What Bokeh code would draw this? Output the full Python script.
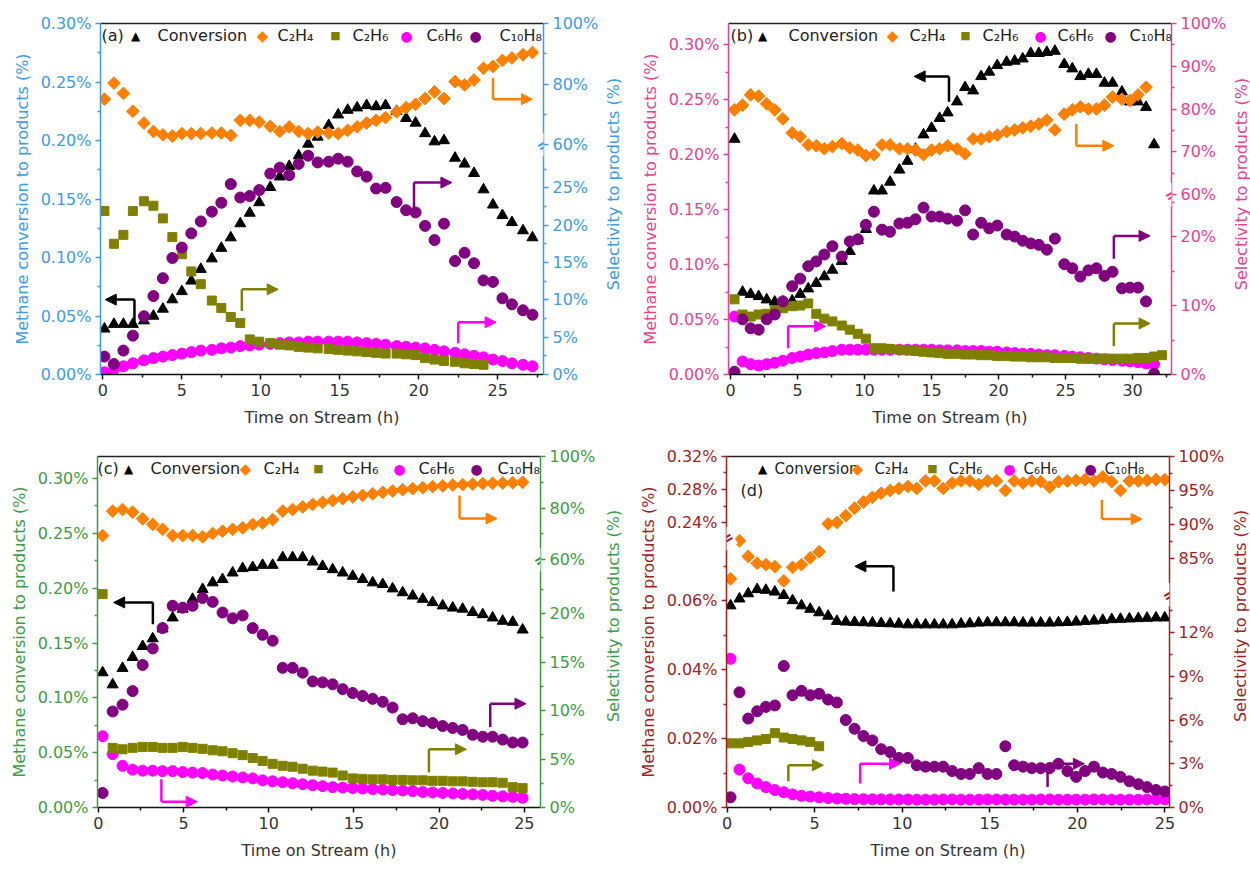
import json
import math
from bokeh.plotting import figure
from bokeh.models import (Range1d, LinearAxis, FixedTicker, CustomJSTickFormatter,
                          Label, Arrow, NormalHead)
from bokeh.layouts import column, row
from bokeh.embed import file_html
from bokeh.resources import INLINE

FONT = "DejaVu Sans"
FW, FH = 443, 351
C_CONV, C_C2H4, C_C2H6, C_C6H6, C_C10H8 = "#000000", "#ff8000", "#808000", "#ff00ff", "#800080"
LEGEND_LABELS = ["Conversion", "C\u2082H\u2084", "C\u2082H\u2086", "C\u2086H\u2086", "C\u2081\u2080H\u2088"]
LEGEND_SYMBOLS = [("\u25B2", C_CONV, "12px"), ("\u25C6", C_C2H4, "15px"), ("\u25A0", C_C2H6, "11px"),
                  ("\u25CF", C_C6H6, "14px"), ("\u25CF", C_C10H8, "14px")]
RIGHT_TITLE = "Selectivity to products (%)"

# ---------------- panel (a) ----------------
TA = [0.1, 0.7, 1.3, 1.9, 2.6, 3.2, 3.8, 4.4, 5.0, 5.6, 6.2, 6.9, 7.5, 8.1, 8.7, 9.3, 9.9, 10.6, 11.2, 11.8,
      12.4, 13.0, 13.6, 14.3, 14.9, 15.5, 16.1, 16.7, 17.3, 17.9, 18.6, 19.2, 19.8, 20.4, 21.0, 21.6, 22.3,
      22.9, 23.5, 24.1, 24.7, 25.3, 25.9, 26.6, 27.2]
CONV_A = [.039, .043, .043, .043, .046, .050, .056, .064, .071, .080, .090, .099, .108, .117, .129, .138, .147,
          .160, .169, .178, .187, .197, .203, .213, .222, .226, .228, .230, .229, .230, .225, .219, .215, .206,
          .199, .200, .185, .180, .172, .158, .145, .136, .130, .123, .117]
C2H4_A = [75.0, 80.3, 76.9, 71.0, 67.1, 64.3, 63.2, 62.8, 63.6, 63.6, 63.6, 63.8, 63.8, 63.0, 68.0, 68.0, 67.4,
          66.0, 64.3, 65.8, 64.3, 63.6, 64.1, 63.8, 63.6, 64.7, 65.8, 67.1, 68.0, 68.9, 70.8, 72.2, 73.3, 75.2,
          77.4, 75.2, 80.8, 79.7, 81.3, 85.2, 85.8, 87.8, 88.6, 89.7, 90.4]
C2H6_A = [21.9, 17.5, 18.7, 21.9, 23.2, 22.6, 20.9, 18.4, 16.1, 13.8, 12.1, 9.9, 8.9, 7.7, 6.9, 4.7, 4.4, 4.2,
          4.0, 3.9, 3.7, 3.6, 3.5, 3.4, 3.3, 3.2, 3.1, 3.0, 2.9, 2.8, 2.8, 2.7, 2.6, 2.2, 2.0, 1.8, 1.7, 1.5,
          1.4, 1.3]
C6H6_A = [0.3, 0.7, 1.1, 1.5, 1.9, 2.2, 2.4, 2.6, 2.8, 3.0, 3.2, 3.3, 3.5, 3.6, 3.8, 3.9, 4.0, 4.1, 4.2, 4.3,
          4.3, 4.4, 4.4, 4.4, 4.4, 4.4, 4.3, 4.2, 4.1, 4.0, 3.8, 3.7, 3.6, 3.5, 3.3, 3.1, 2.9, 2.7, 2.5, 2.3,
          2.0, 1.8, 1.5, 1.3, 1.1]
C10H8_A = [2.4, 1.4, 3.2, 5.2, 7.8, 10.5, 12.9, 15.6, 17.0, 18.9, 20.5, 21.8, 23.0, 25.5, 23.7, 23.9, 24.7,
           26.9, 27.7, 26.7, 28.2, 29.3, 28.4, 28.5, 28.9, 28.5, 27.2, 26.5, 24.9, 25.0, 23.1, 22.0, 21.7, 19.9,
           18.0, 20.2, 15.2, 16.3, 14.9, 12.6, 12.4, 10.2, 9.4, 8.6, 8.0]

# ---------------- panel (b) ----------------
TB = [0.3, 0.9, 1.5, 2.1, 2.7, 3.3, 3.9, 4.6, 5.2, 5.8, 6.4, 7.0, 7.6, 8.3, 8.9, 9.5, 10.1, 10.7, 11.3, 11.9,
      12.6, 13.2, 13.8, 14.4, 15.0, 15.6, 16.2, 16.9, 17.5, 18.1, 18.7, 19.3, 19.9, 20.6, 21.2, 21.8, 22.4,
      23.0, 23.6, 24.2, 24.9, 25.5, 26.1, 26.7, 27.3, 27.9, 28.5, 29.2, 29.8, 30.4, 31.0, 31.6, 32.2]
CONV_B = [.214, .075, .073, .071, .068, .066, .066, .067, .073, .078, .083, .089, .095, .103, .112, .122, .132,
          .167, .167, .175, .186, .194, .205, .218, .224, .233, .238, .248, .261, .258, .271, .275, .281, .284,
          .285, .287, .292, .292, .293, .294, .282, .278, .271, .273, .273, .265, .265, .257, .248, .248, .243,
          .209]
C2H4_B = [79.8, 80.9, 83.3, 83.0, 81.2, 79.8, 77.7, 74.4, 73.5, 71.6, 71.4, 70.7, 71.2, 71.9, 70.9, 70.4, 69.1,
          69.3, 71.6, 71.6, 70.7, 70.7, 70.4, 69.3, 70.4, 70.7, 71.4, 70.7, 69.5, 73.0, 73.0, 73.5, 73.9, 74.7,
          75.1, 75.6, 76.0, 76.5, 77.4, 75.1, 78.8, 79.8, 80.5, 80.0, 80.0, 80.9, 82.8, 82.3, 82.0, 83.3, 85.1]
C2H6_B = [10.9, 8.7, 8.4, 8.7, 8.8, 9.3, 9.6, 9.9, 10.0, 10.3, 8.8, 8.1, 7.7, 7.1, 6.5, 5.9, 5.2, 3.8, 3.8,
          3.7, 3.6, 3.5, 3.4, 3.3, 3.2, 3.1, 3.0, 3.0, 2.9, 2.9, 2.8, 2.8, 2.7, 2.7, 2.6, 2.6, 2.5, 2.5, 2.5,
          2.4, 2.4, 2.4, 2.3, 2.3, 2.3, 2.3, 2.3, 2.3, 2.3, 2.4, 2.4, 2.6, 2.8]
C6H6_B = [8.4, 1.9, 1.5, 1.3, 1.5, 1.7, 2.0, 2.4, 2.6, 2.9, 3.1, 3.2, 3.4, 3.6, 3.6, 3.6, 3.6, 3.6, 3.6, 3.6,
          3.6, 3.6, 3.6, 3.6, 3.6, 3.5, 3.5, 3.5, 3.4, 3.4, 3.4, 3.3, 3.3, 3.2, 3.1, 3.0, 3.0, 2.9, 2.8, 2.8,
          2.7, 2.6, 2.5, 2.4, 2.3, 2.2, 2.1, 2.0, 1.9, 1.8, 1.6, 1.5]
C10H8_B = [0.4, 8.0, 6.7, 6.5, 8.0, 8.7, 10.6, 12.8, 13.9, 15.7, 16.4, 17.4, 18.6, 17.1, 19.3, 19.6, 21.7, 23.6,
           21.0, 20.7, 21.9, 22.0, 22.5, 24.2, 22.9, 22.9, 22.6, 22.3, 23.8, 20.3, 22.0, 21.2, 21.6, 20.3, 20.0,
           19.4, 19.0, 18.8, 18.1, 19.7, 16.0, 15.4, 14.2, 15.1, 15.4, 14.3, 14.9, 12.5, 12.6, 12.6, 10.6, 0.1]

# ---------------- panel (c) ----------------
TC = [0.25, 0.84, 1.42, 2.01, 2.6, 3.19, 3.77, 4.36, 4.95, 5.53, 6.12, 6.71, 7.29, 7.88, 8.47, 9.06, 9.64,
      10.23, 10.82, 11.4, 11.99, 12.58, 13.16, 13.75, 14.34, 14.93, 15.51, 16.1, 16.69, 17.27, 17.86, 18.45,
      19.04, 19.62, 20.21, 20.8, 21.38, 21.97, 22.56, 23.14, 23.73, 24.32, 24.9]
CONV_C = [.123, .112, .127, .137, .147, .154, .163, .173, .181, .190, .199, .205, .208, .214, .218, .219, .221,
          .221, .228, .228, .228, .224, .220, .217, .214, .211, .208, .205, .2035, .1995, .196, .193, .190, .187,
          .184, .182, .181, .178, .176, .173, .170, .169, .162]
C2H4_C = [69.3, 78.8, 79.4, 78.4, 75.8, 73.6, 71.7, 69.3, 69.3, 69.3, 68.8, 70.1, 71.0, 71.7, 72.3, 73.6, 74.2,
          75.5, 78.8, 79.4, 80.4, 81.4, 82.2, 82.9, 83.6, 84.3, 84.9, 85.5, 86.1, 86.6, 87.1, 87.5, 87.9, 88.3,
          88.6, 88.9, 89.1, 89.3, 89.5, 89.6, 89.7, 89.8, 90.0]
C2H6_C = [22.0, 6.15, 6.0, 6.15, 6.25, 6.25, 6.15, 6.15, 6.25, 6.15, 6.05, 5.9, 5.8, 5.6, 5.4, 5.1, 4.8, 4.5,
          4.3, 4.2, 4.0, 3.8, 3.7, 3.6, 3.3, 3.0, 2.95, 2.9, 2.9, 2.85, 2.85, 2.8, 2.8, 2.75, 2.75, 2.7, 2.7,
          2.65, 2.6, 2.6, 2.55, 2.1, 2.0]
C6H6_C = [7.35, 5.5, 4.3, 3.9, 3.8, 3.8, 3.75, 3.75, 3.65, 3.6, 3.55, 3.4, 3.3, 3.2, 3.1, 3.0, 2.8, 2.7, 2.6,
          2.5, 2.4, 2.3, 2.2, 2.1, 2.05, 2.0, 1.95, 1.9, 1.85, 1.8, 1.75, 1.7, 1.6, 1.55, 1.5, 1.45, 1.4, 1.35,
          1.3, 1.2, 1.15, 1.1, 1.0]
C10H8_C = [1.5, 9.9, 10.6, 12.0, 14.7, 16.4, 18.5, 20.8, 20.6, 20.8, 21.6, 21.2, 20.1, 19.5, 19.8, 18.5, 17.8,
           17.2, 14.4, 14.4, 13.9, 13.0, 12.9, 12.7, 12.2, 11.8, 11.5, 11.2, 10.9, 10.3, 9.1, 9.2, 8.9, 8.7,
           8.4, 8.2, 8.0, 7.5, 7.3, 7.3, 7.0, 6.7, 6.7]

# ---------------- panel (d) ----------------
TD = [0.2, 0.71, 1.21, 1.72, 2.22, 2.73, 3.24, 3.74, 4.25, 4.75, 5.26, 5.77, 6.27, 6.78, 7.28, 7.79, 8.3, 8.8,
      9.31, 9.81, 10.32, 10.83, 11.33, 11.84, 12.34, 12.85, 13.36, 13.86, 14.37, 14.87, 15.38, 15.89, 16.39,
      16.9, 17.4, 17.91, 18.42, 18.92, 19.43, 19.93, 20.44, 20.95, 21.45, 21.96, 22.46, 22.97, 23.48, 23.98,
      24.49, 24.99]
CONV_D = [.0585, .0605, .062, .0632, .063, .0625, .0615, .060, .0585, .0575, .0565, .0555, .054, .0538, .0537,
          .0536, .0535, .0534, .0533, .0532, .053, .053, .053, .053, .053, .053, .0532, .0533, .0535, .0536,
          .0536, .0536, .0536, .0535, .0535, .0535, .0535, .0536, .0537, .0538, .054, .0541, .0543, .0545,
          .0546, .0547, .0548, .0549, .055, .055]
C2H4_D = [82.0, 87.6, 85.3, 84.3, 84.1, 83.8, 81.7, 83.7, 84.1, 85.1, 86.0, 90.1, 90.3, 91.3, 92.4, 93.3, 94.0,
          94.6, 95.0, 95.3, 95.6, 95.3, 96.4, 96.4, 95.3, 96.1, 96.4, 96.4, 95.9, 96.4, 96.4, 95.0, 96.4, 96.1,
          96.4, 96.3, 95.5, 96.3, 96.4, 96.5, 96.6, 96.4, 97.0, 96.3, 95.0, 96.4, 96.4, 96.5, 96.6, 96.6]
C2H6_D = [4.4, 4.4, 4.5, 4.6, 4.7, 5.1, 4.8, 4.7, 4.6, 4.5, 4.2]
C6H6_D = [10.2, 2.6, 2.0, 1.65, 1.4, 1.2, 1.05, 0.9, 0.8, 0.75, 0.7, 0.65, 0.62, 0.6, 0.58, 0.57, 0.56, 0.56,
          0.55, 0.55, 0.55, 0.54, 0.54, 0.54, 0.55, 0.55, 0.54, 0.54, 0.54, 0.55, 0.55, 0.54, 0.54, 0.54, 0.54,
          0.55, 0.55, 0.54, 0.54, 0.54, 0.54, 0.55, 0.55, 0.54, 0.54, 0.54, 0.54, 0.55, 0.55, 0.55]
C10H8_D = [0.7, 7.9, 6.1, 6.6, 6.9, 7.0, 9.7, 7.7, 8.0, 7.7, 7.8, 7.4, 7.2, 6.0, 5.4, 4.9, 4.6, 4.0, 3.8, 3.4,
           3.4, 2.9, 2.8, 2.8, 2.8, 2.5, 2.3, 2.3, 2.7, 2.3, 2.3, 4.2, 2.9, 2.8, 2.7, 2.7, 2.7, 3.0, 2.5, 2.1,
           2.5, 2.8, 2.4, 2.3, 2.1, 1.8, 1.6, 1.4, 1.2, 1.1]

MARKERS = {
    "conv": dict(marker="triangle", size=11, color=C_CONV, angle=0.0),
    "c2h4": dict(marker="square", size=9, color=C_C2H4, angle=math.pi / 4),
    "c2h6": dict(marker="square", size=9, color=C_C2H6, angle=0.0),
    "c6h6": dict(marker="circle", size=11, color=C_C6H6, angle=0.0),
    "c10h8": dict(marker="circle", size=11, color=C_C10H8, angle=0.0),
}
DRAW_ORDER = ["conv", "c2h4", "c6h6", "c2h6", "c10h8"]


def seg_range(v0, p0, v1, p1):
    k = (p1 - p0) / (v1 - v0)
    start = v0 - p0 / k
    return Range1d(start=start, end=start + FH / k)


def to_base(v, r, base):
    return base.start + (v - r.start) / (r.end - r.start) * (base.end - base.start)


def style_axis(ax, color, label_color=None, lab_standoff=6):
    label_color = label_color or color
    ax.axis_line_color = color
    ax.axis_line_width = 1.5
    ax.major_tick_line_color = color
    ax.major_tick_line_width = 1.5
    ax.minor_tick_line_color = color
    ax.minor_tick_line_width = 1.5
    ax.major_tick_out = 5
    ax.major_tick_in = 0
    ax.minor_tick_out = 3
    ax.minor_tick_in = 0
    ax.major_label_text_color = label_color
    ax.major_label_text_font = FONT
    ax.major_label_text_font_size = "16px"
    ax.major_label_standoff = 4
    ax.axis_label_text_color = label_color
    ax.axis_label_text_font = FONT
    ax.axis_label_text_font_size = "16px"
    ax.axis_label_text_font_style = "normal"
    ax.axis_label_standoff = lab_standoff


def build_y_axis(segs, ranges, color, decimals, label, lab_standoff):
    base_name = segs[0]["name"]
    base = ranges[base_name]
    majors, minors, labels = [], [], {}
    for s in segs:
        r = ranges[s["name"]]
        for v in s["major"]:
            pos = round(to_base(v, r, base), 6) + 0.0
            majors.append(pos)
            labels[f"{pos:.5f}"] = f"{v:.{decimals}f}%"
        for v in s["minor"]:
            minors.append(round(to_base(v, r, base), 6) + 0.0)
    code = ("const m = %s; const k = (Math.abs(tick) < 1e-9 ? 0 : tick).toFixed(5); "
            "return (k in m) ? m[k] : '';") % json.dumps(labels)
    ax = LinearAxis(y_range_name=base_name, ticker=FixedTicker(ticks=majors, minor_ticks=minors),
                    formatter=CustomJSTickFormatter(code=code), axis_label=label)
    style_axis(ax, color, lab_standoff=lab_standoff)
    return ax


def make_title_strip(width, height, frame_top, color):
    """Narrow strip right of a panel holding the right-axis title, reading bottom-to-top."""
    t = figure(width=width, height=height, x_range=Range1d(0, 1), y_range=Range1d(0, 1),
               output_backend="svg", toolbar_location=None, x_axis_location=None, y_axis_location=None,
               min_border=0, min_border_left=0, min_border_right=0, min_border_top=0, min_border_bottom=0)
    t.outline_line_color = None
    t.grid.visible = False
    t.background_fill_color = "white"
    t.border_fill_color = "white"
    t.add_layout(Label(x=0.5, y=1 - (frame_top + FH / 2) / height, text=RIGHT_TITLE, angle=math.pi / 2,
                       text_font=FONT, text_font_size="16px", text_color=color,
                       text_align="center", text_baseline="middle"))
    return t


def make_panel(cfg):
    ranges = {}
    for s in cfg["left"] + cfg["right"]:
        ranges[s["name"]] = seg_range(*s["map"])
    xr = Range1d(*cfg["xrange"])
    bl, br, bt, bb = cfg["borders"]
    p = figure(frame_width=FW, frame_height=FH, x_range=xr, y_range=ranges["default"],
               output_backend="svg", toolbar_location=None, x_axis_location=None, y_axis_location=None,
               min_border_left=bl, min_border_right=br, min_border_top=bt, min_border_bottom=bb)
    p.extra_y_ranges = {k: v for k, v in ranges.items() if k != "default"}
    p.outline_line_color = None
    p.background_fill_color = "white"
    p.border_fill_color = "white"
    p.grid.visible = False

    col = cfg["color"]
    p.add_layout(build_y_axis(cfg["left"], ranges, col, 2, "Methane conversion to products (%)", 6), "left")
    p.add_layout(build_y_axis(cfg["right"], ranges, col, 0, None, 5), "right")

    xax = LinearAxis(ticker=FixedTicker(ticks=cfg["xmajor"], minor_ticks=cfg["xminor"]),
                     axis_label="Time on Stream (h)")
    style_axis(xax, "#111111", "#333333", lab_standoff=9)
    p.add_layout(xax, "below")
    top = LinearAxis(ticker=FixedTicker(ticks=[], minor_ticks=[]))
    top.axis_line_color = "#222222"
    top.axis_line_width = 1.5
    top.major_label_text_font_size = "0px"
    p.add_layout(top, "above")

    for key in DRAW_ORDER:
        t, vals, yname = cfg["series"][key]
        m = MARKERS[key]
        p.scatter(x=t[:len(vals)], y=vals, marker=m["marker"], size=m["size"], angle=m["angle"],
                  fill_color=m["color"], line_color=m["color"], y_range_name=yname)

    base = ranges["default"]
    xs, xe = cfg["xrange"]

    def fx(px):
        return xs + px / FW * (xe - xs)

    def fy(py_from_top):
        return base.start + (FH - py_from_top) / FH * (base.end - base.start)

    # panel tag
    tx, ty = cfg["tag_pos"]
    p.add_layout(Label(x=fx(tx), y=fy(ty), text=cfg["tag"], text_font=FONT, text_font_size="16px",
                       text_color="#222222", text_baseline="middle", text_align="left"))
    # legend (symbols + names)
    fs = cfg.get("legend_font", "16px")
    for (sym, scol, ssize), sx, lx, lab in zip(LEGEND_SYMBOLS, cfg["leg_sym"], cfg["leg_txt"], LEGEND_LABELS):
        p.add_layout(Label(x=fx(sx), y=fy(12), text=sym, text_font=FONT, text_font_size=ssize,
                           text_color=scol, text_align="center", text_baseline="middle"))
        p.add_layout(Label(x=fx(lx), y=fy(12), text=lab, text_font=FONT, text_font_size=fs,
                           text_color="#222222", text_align="left", text_baseline="middle"))

    # axis breaks
    for side, px in cfg["breaks"]:
        xv = xs if side == "left" else xe
        p.add_layout(Label(x=xv, y=base.start + px / FH * (base.end - base.start), text="=",
                           angle=0.55, text_align="center", text_baseline="middle",
                           text_font=FONT, text_font_size="17px", text_font_style="bold",
                           text_color=col, background_fill_color="white"))

    # bent arrows
    for color, yname, (x0, y0), (x1, y1), (x2, y2) in cfg["arrows"]:
        p.add_layout(Arrow(end=None, x_start=x0, y_start=y0, x_end=x1, y_end=y1, line_color=color,
                           line_width=2.5, y_range_name=yname))
        p.add_layout(Arrow(end=NormalHead(size=11, fill_color=color, line_color=color, line_width=1),
                           x_start=x1, y_start=y1, x_end=x2, y_end=y2, line_color=color,
                           line_width=2.5, y_range_name=yname))

    strip = make_title_strip(cfg["strip_w"], bt + FH + bb, bt, col)
    return p, strip


LEFT_STD = dict(name="default", major=[0, 0.05, 0.10, 0.15, 0.20, 0.25, 0.30],
                minor=[0.025, 0.075, 0.125, 0.175, 0.225, 0.275])

cfg_a = dict(
    tag="(a)", tag_pos=(1, 12), color="#3d9be9", xrange=(-0.15, 27.9), borders=(100, 57, 23, 60),
    strip_w=23, leg_sym=[35, 162, 235, 306, 375], leg_txt=[57, 177, 252, 326, 399],
    xmajor=[0, 5, 10, 15, 20, 25], xminor=[2.5, 7.5, 12.5, 17.5, 22.5, 27.5],
    left=[dict(LEFT_STD, map=(0, 0, 0.30, 351))],
    right=[dict(name="R0", map=(0, 0, 30.8, 230), major=[0, 5, 10, 15, 20, 25],
                minor=[2.5, 7.5, 12.5, 17.5, 22.5, 27.5]),
           dict(name="R1", map=(60, 230, 100, 351), major=[60, 80, 100], minor=[70, 90])],
    series=dict(conv=(TA, CONV_A, "default"), c2h4=(TA, C2H4_A, "R1"), c2h6=(TA, C2H6_A, "R0"),
                c6h6=(TA, C6H6_A, "R0"), c10h8=(TA, C10H8_A, "R0")),
    breaks=[("right", 230)],
    arrows=[(C_CONV, "default", (2.0, .044), (2.0, .064), (0.15, .064)),
            (C_C2H6, "R0", (8.8, 8.5), (8.8, 11.4), (11.1, 11.4)),
            (C_C6H6, "R0", (22.5, 4.2), (22.5, 7.0), (24.9, 7.0)),
            (C_C10H8, "R0", (19.7, 21.0), (19.7, 25.7), (22.1, 25.7)),
            (C_C2H4, "R1", (24.7, 82.0), (24.7, 75.0), (27.2, 75.0))],
)

cfg_b = dict(
    tag="(b)", tag_pos=(2, 12), color="#e8428f", xrange=(-0.15, 32.9), borders=(104, 57, 23, 60),
    strip_w=23, leg_sym=[34, 164, 237, 312, 382], leg_txt=[60, 181, 254, 329, 401],
    xmajor=[0, 5, 10, 15, 20, 25, 30], xminor=[2.5, 7.5, 12.5, 17.5, 22.5, 27.5, 32.5],
    left=[dict(LEFT_STD, map=(0, 0, 0.30, 330))],
    right=[dict(name="R0", map=(0, 0, 26.1, 180), major=[0, 10, 20], minor=[5, 15, 25]),
           dict(name="R1", map=(60, 180, 100, 351), major=[60, 70, 80, 90, 100], minor=[65, 75, 85, 95])],
    series=dict(conv=(TB, CONV_B, "default"), c2h4=(TB, C2H4_B, "R1"), c2h6=(TB, C2H6_B, "R0"),
                c6h6=(TB, C6H6_B, "R0"), c10h8=(TB, C10H8_B, "R0")),
    breaks=[("right", 180)],
    arrows=[(C_CONV, "default", (16.3, .248), (16.3, .271), (13.7, .271)),
            (C_C2H4, "R1", (25.8, 76.5), (25.8, 71.4), (28.6, 71.4)),
            (C_C6H6, "R0", (4.3, 3.8), (4.3, 7.0), (7.1, 7.0)),
            (C_C10H8, "R0", (28.6, 16.8), (28.6, 20.1), (31.3, 20.1)),
            (C_C2H6, "R0", (28.6, 4.1), (28.6, 7.4), (31.3, 7.4))],
)

cfg_c = dict(
    tag="(c)", tag_pos=(0, 12), color="#3c9c46", xrange=(-0.05, 25.95), borders=(97, 57, 22, 62),
    strip_w=30, leg_sym=[31, 148, 221, 302, 379], leg_txt=[53, 166, 245, 321, 400],
    xmajor=[0, 5, 10, 15, 20, 25], xminor=[2.5, 7.5, 12.5, 17.5, 22.5],
    left=[dict(LEFT_STD, map=(0, 0, 0.30, 329))],
    right=[dict(name="R0", map=(0, 0, 25.57, 248), major=[0, 5, 10, 15, 20],
                minor=[2.5, 7.5, 12.5, 17.5, 22.5]),
           dict(name="R1", map=(60, 248, 100, 351), major=[60, 80, 100], minor=[70, 90])],
    series=dict(conv=(TC, CONV_C, "default"), c2h4=(TC, C2H4_C, "R1"), c2h6=(TC, C2H6_C, "R0"),
                c6h6=(TC, C6H6_C, "R0"), c10h8=(TC, C10H8_C, "R0")),
    breaks=[("right", 248)],
    arrows=[(C_CONV, "default", (3.2, .167), (3.2, .187), (0.9, .187)),
            (C_C2H4, "R1", (21.2, 84.9), (21.2, 75.9), (23.4, 75.9)),
            (C_C6H6, "R0", (3.7, 2.9), (3.7, 0.6), (5.8, 0.6)),
            (C_C2H6, "R0", (19.4, 3.6), (19.4, 6.0), (21.6, 6.0)),
            (C_C10H8, "R0", (23.0, 8.3), (23.0, 10.7), (25.1, 10.7))],
)

cfg_d = dict(
    tag="(d)", tag_pos=(14, 34), color="#a01e1e", xrange=(-0.03, 25.26), borders=(98, 57, 22, 62),
    strip_w=25, leg_sym=[36, 131, 206, 283, 364], leg_txt=[48, 148, 222, 297, 378], legend_font="15px",
    xmajor=[0, 5, 10, 15, 20, 25], xminor=[2.5, 7.5, 12.5, 17.5, 22.5],
    left=[dict(name="default", map=(0, 0, 0.06, 207), major=[0, 0.02, 0.04, 0.06],
               minor=[0.01, 0.03, 0.05, 0.07]),
          dict(name="L1", map=(0.24, 285, 0.32, 351), major=[0.24, 0.28, 0.32], minor=[0.26, 0.30])],
    right=[dict(name="R0", map=(0, 0, 12, 175), major=[0, 3, 6, 9, 12], minor=[1.5, 4.5, 7.5, 10.5, 13.5]),
           dict(name="R1", map=(85, 249, 100, 351), major=[85, 90, 95, 100], minor=[87.5, 92.5, 97.5])],
    series=dict(conv=(TD, CONV_D, "default"), c2h4=(TD, C2H4_D, "R1"), c2h6=(TD, C2H6_D, "R0"),
                c6h6=(TD, C6H6_D, "R0"), c10h8=(TD, C10H8_D, "R0")),
    breaks=[("left", 269), ("right", 213)],
    arrows=[(C_CONV, "default", (9.5, .0626), (9.5, .0699), (7.3, .0699)),
            (C_C2H4, "R1", (21.4, 93.6), (21.4, 90.8), (23.7, 90.8)),
            (C_C6H6, "R0", (7.6, 1.65), (7.6, 3.0), (9.9, 3.0)),
            (C_C2H6, "R0", (3.5, 1.8), (3.5, 2.9), (5.5, 2.9)),
            (C_C10H8, "R0", (18.3, 1.4), (18.3, 3.0), (20.4, 3.0))],
)

(pa, sa), (pb, sb), (pc, sc), (pd, sd) = (make_panel(c) for c in (cfg_a, cfg_b, cfg_c, cfg_d))
layout = column(row(pa, sa, pb, sb), row(pc, sc, pd, sd))

open("out.html", "w").write(file_html(layout, INLINE))
